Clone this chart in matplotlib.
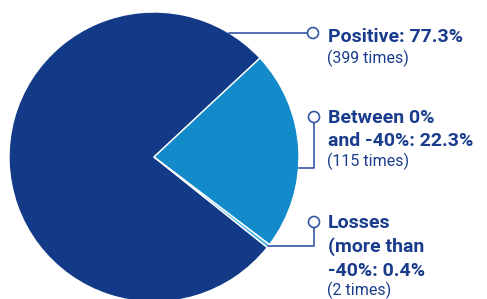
import numpy as np
import matplotlib
matplotlib.use("Agg")
import matplotlib.pyplot as plt
from matplotlib.patches import Circle

categories = ["Positive", "Between 0% and -40%", "Losses (more than -40%)"]
counts = [399, 115, 2]
percents = [77.3, 22.3, 0.4]
title_lines = [["Positive: 77.3%"], ["Between 0%", "and -40%: 22.3%"],
               ["Losses", "(more than", "-40%: 0.4%"]]
subtitles = ["(399 times)", "(115 times)", "(2 times)"]
colors = ["#133a87", "#138ac9", "#4cb6e6"]

W, H = 487, 299
fig = plt.figure(figsize=(W / 100, H / 100), dpi=100)
ax = fig.add_axes([0, 0, 1, 1])

cx, cy, R = 154, 299 - 157, 145
wedges, _ = ax.pie(counts, colors=colors, startangle=-38.6, counterclock=False,
                   center=(cx, cy), radius=R, frame=True,
                   wedgeprops=dict(edgecolor="white", linewidth=1.0))
ax.set_xlim(0, W)
ax.set_ylim(0, H)
ax.set_aspect("equal")
ax.axis("off")

line_c = "#3556a3"
text_c = "#1a3c8c"
fam = ["Roboto", "DejaVu Sans"]

def circ(x, y):
    ax.add_patch(Circle((x, y), 5.5, facecolor="white", edgecolor=line_c, lw=1.2, zorder=5))

# Positive: horizontal leader at pixel y=33
ly = H - 33
ex = cx + np.sqrt(R**2 - (ly - cy) ** 2)
ax.plot([ex, 313], [ly, ly], color=line_c, lw=1.2, zorder=4)
circ(313, ly)

# Between: circle at y=117, down to y=168, left to pie edge
c2y = H - 117
hy = H - 168
ex2 = cx + np.sqrt(R**2 - (hy - cy) ** 2)
ax.plot([314, 314, ex2], [c2y, hy, hy], color=line_c, lw=1.2, zorder=4)
circ(314, c2y)

# Losses: circle at y=222, down, left to losses wedge rim
w = wedges[2]
mid = np.deg2rad((w.theta1 + w.theta2) / 2)
rx, ry = cx + R * np.cos(mid), cy + R * np.sin(mid)
c3y = H - 222
ax.plot([314, 314, rx], [c3y, ry, ry], color=line_c, lw=1.2, zorder=4)
circ(314, c3y)

tx = 328
title_base = [[42.5], [122.7, 146.3], [228.3, 252.0, 276.0]]
sub_base = [63.3, 166.5, 295.5]
for lines, bases, sub, sb in zip(title_lines, title_base, subtitles, sub_base):
    for s, b in zip(lines, bases):
        ax.text(tx, H - b, s, fontsize=14, fontweight="bold", color=text_c,
                family=fam, va="baseline", ha="left")
    ax.text(tx - 1, H - sb, sub, fontsize=11.5, color=text_c, family=fam,
            va="baseline", ha="left")

fig.savefig("out.png", dpi=100, facecolor="white")
